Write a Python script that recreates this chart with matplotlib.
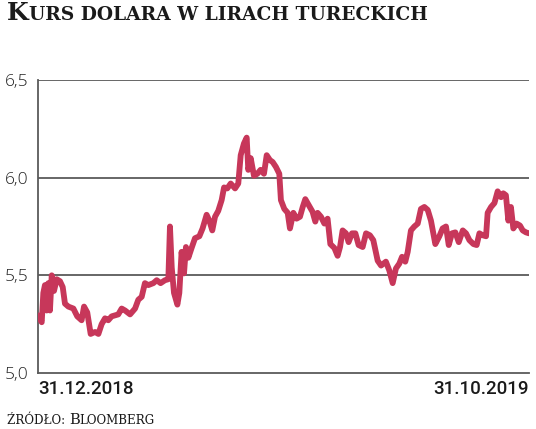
import matplotlib
matplotlib.use("Agg")
import matplotlib.pyplot as plt
import numpy as np

# ---- data: days since 31.12.2018, USD/TRY rate ----
days = [0, 2.3, 3.3, 4.3, 5.4, 6.4, 7.4, 8.5, 9.9, 11.6, 13.6, 15.3, 16.7, 18.8, 21.9,
        24.3, 27.0, 28.5, 30.5, 32.6, 35.3, 37.4, 39.4, 41.5, 43.5, 45.6, 47.7, 49.7,
        51.8, 53.9, 57.0, 60.1, 62.1, 64.2, 66.2, 68.3, 71.4, 73.5, 75.9, 78.6, 80.7,
        81.7, 82.8, 84.2, 86.3, 87.5, 88.9, 90.4, 91.6, 93.1, 95.1, 97.2, 99.9, 101.9,
        104.4, 106.1, 107.9, 109.6, 111.6, 113.7, 115.2, 117.2, 119.3, 122.0, 124.0,
        125.5, 127.5, 129.2, 130.2, 131.7, 133.7, 135.8, 137.8, 139.9, 141.6, 143.6,
        145.3, 147.3, 149.4, 150.4, 152.5, 154.6, 156.0, 158.1, 160.1, 162.2, 163.9,
        165.5, 167.6, 170.0, 171.7, 173.1, 175.2, 177.3, 179.3, 181.0, 183.5, 185.5,
        187.0, 188.6, 190.7, 192.3, 194.4, 196.5, 198.5, 201.0, 203.1, 205.5, 207.6,
        210.3, 212.4, 215.4, 217.5, 219.6, 221.6, 223.7, 225.4, 227.4, 228.9, 230.9,
        233.0, 235.1, 237.1, 239.2, 241.3, 243.3, 246.0, 248.5, 250.5, 252.6, 254.3,
        256.3, 258.4, 260.5, 263.0, 265.0, 267.1, 269.6, 271.6, 273.3, 275.4, 277.4,
        278.4, 280.5, 282.6, 284.6, 286.7, 288.1, 289.7, 291.2, 292.8, 294.3, 296.3,
        298.4, 300.1, 302.1, 304]
rate = [5.295, 5.26, 5.41, 5.45, 5.32, 5.46, 5.32, 5.50, 5.42, 5.48, 5.47, 5.44, 5.355,
        5.34, 5.33, 5.29, 5.27, 5.34, 5.31, 5.20, 5.21, 5.20, 5.25, 5.28, 5.27, 5.29,
        5.295, 5.30, 5.33, 5.32, 5.30, 5.33, 5.375, 5.39, 5.46, 5.45, 5.46, 5.475, 5.46,
        5.475, 5.48, 5.75, 5.54, 5.41, 5.35, 5.41, 5.62, 5.51, 5.645, 5.59, 5.64, 5.69,
        5.70, 5.74, 5.81, 5.78, 5.73, 5.80, 5.83, 5.885, 5.95, 5.945, 5.97, 5.945, 5.97,
        6.115, 6.175, 6.205, 6.04, 6.10, 6.01, 6.02, 6.04, 6.02, 6.115, 6.09,
        6.08, 6.055, 6.02, 5.885, 5.84, 5.82, 5.74, 5.82, 5.79, 5.80, 5.85, 5.89, 5.86,
        5.825, 5.775, 5.82, 5.80, 5.765, 5.79, 5.66, 5.64, 5.60, 5.645, 5.73, 5.715,
        5.67, 5.715, 5.715, 5.655, 5.645, 5.715, 5.705, 5.68, 5.575, 5.55, 5.57, 5.525,
        5.46, 5.535, 5.56, 5.595, 5.57, 5.62, 5.73, 5.75, 5.765, 5.84, 5.85, 5.835, 5.78,
        5.66, 5.70, 5.74, 5.75, 5.655, 5.715, 5.72, 5.67, 5.73, 5.715, 5.68, 5.66, 5.655,
        5.715, 5.705, 5.70, 5.82, 5.85, 5.87, 5.93, 5.90, 5.92, 5.91, 5.78, 5.85, 5.74,
        5.765, 5.755, 5.73, 5.72, 5.715]

y_ticks = [5.0, 5.5, 6.0, 6.5]
y_labels = ["5,0", "5,5", "6,0", "6,5"]
x_labels = ["31.12.2018", "31.10.2019"]
title_parts = [("K", 18), ("URS DOLARA W LIRACH TURECKICH", 13.4)]
source_parts = [("ŹRÓDŁO: ", 8.6), ("B", 10.6), ("LOOMBERG", 8.6)]

W, H = 536, 429
fig = plt.figure(figsize=(W / 100, H / 100), dpi=100)
ax = fig.add_axes([38 / W, 1 - 373 / H, 491 / W, 293 / H])

line_col = "#c7375a"
grid_col = "#5a5a5a"

for yt in y_ticks[1:]:
    ax.axhline(yt, color=grid_col, lw=1.3, zorder=1)

ax.plot(days, rate, color=line_col, lw=4.2, solid_joinstyle="round",
        solid_capstyle="round", zorder=3)

ax.set_xlim(days[0], days[-1])
ax.set_ylim(y_ticks[0], y_ticks[-1])
for s in ["top", "right"]:
    ax.spines[s].set_visible(False)
for s in ["left", "bottom"]:
    ax.spines[s].set_color(grid_col)
    ax.spines[s].set_linewidth(1.3)

ax.set_yticks(y_ticks)
ax.set_yticklabels(y_labels, fontfamily="Open Sans", fontweight="light",
                   fontsize=12.5, color="#222222")
ax.tick_params(axis="y", length=0, pad=7)
ax.set_xticks([])

ax.text(0, -0.025, x_labels[0], transform=ax.transAxes, ha="left", va="top",
        fontfamily="Roboto", fontweight="medium", fontsize=13.5, color="#1a1a1a")
ax.text(1, -0.025, x_labels[1], transform=ax.transAxes, ha="right", va="top",
        fontfamily="Roboto", fontweight="medium", fontsize=13.5, color="#1a1a1a")

renderer = fig.canvas.get_renderer()


def small_caps(parts, x0, y0, weight):
    x = x0
    for txt, size in parts:
        t = fig.text(x / W, 1 - y0 / H, txt, fontsize=size, fontweight=weight,
                     fontfamily="DejaVu Serif", color="#1a1a1a",
                     ha="left", va="baseline")
        bb = t.get_window_extent(renderer=renderer)
        x += bb.width


small_caps(title_parts, 7, 20, "bold")
small_caps(source_parts, 7, 424, "normal")

fig.savefig("out.png", dpi=100, facecolor="white")
